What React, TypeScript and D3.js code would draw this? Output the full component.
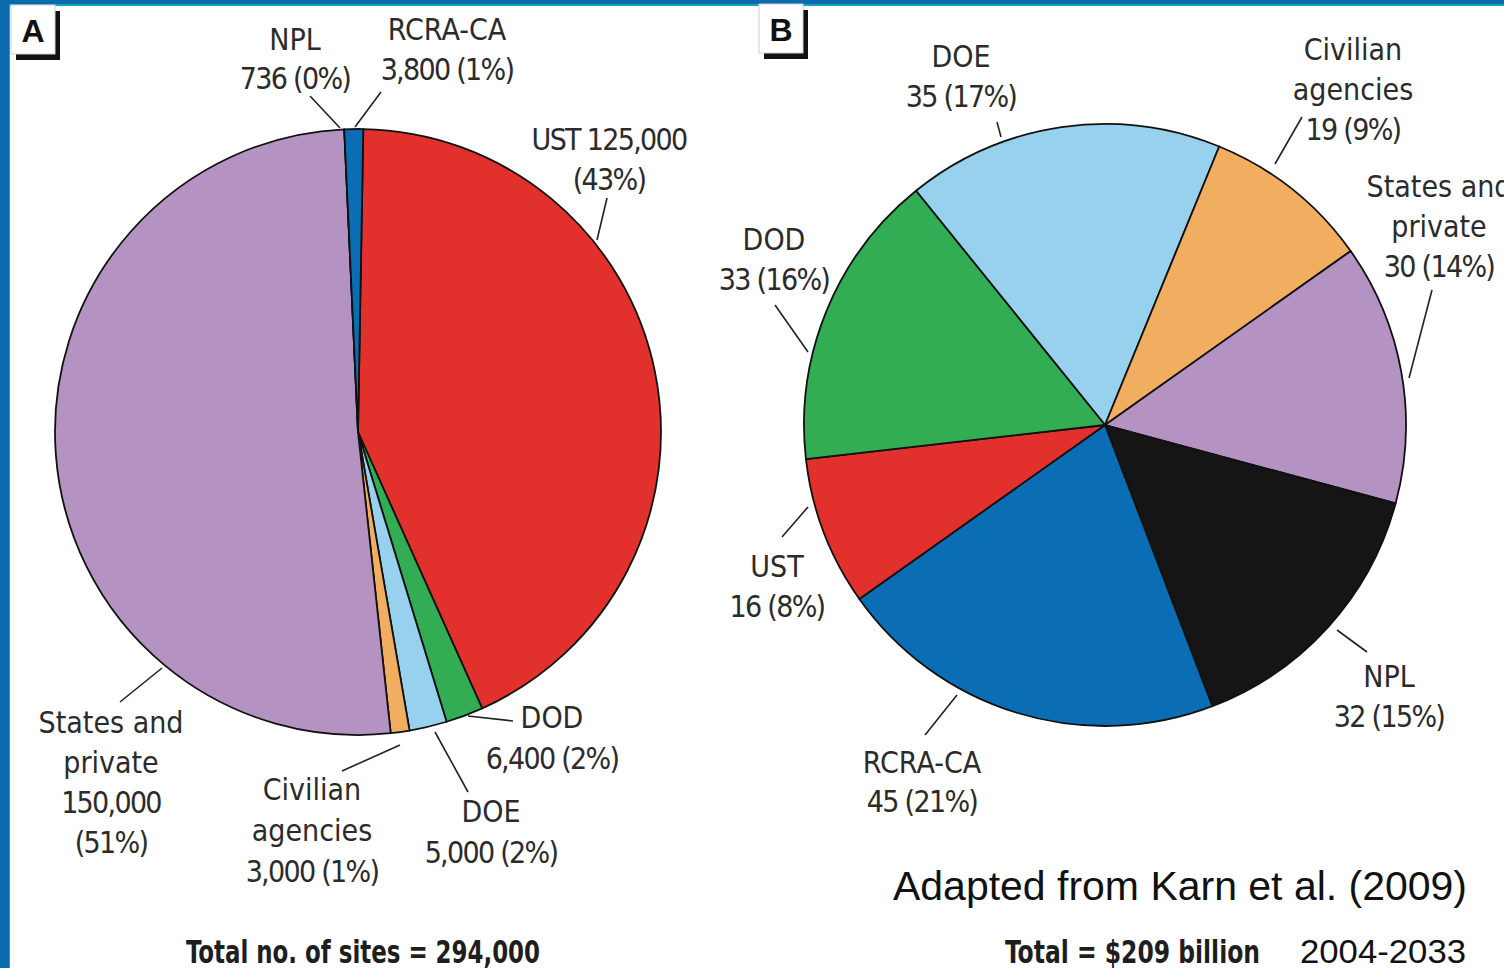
import React from 'react'
import * as d3 from 'd3'

// panel A: number of sites
const sitesNames = ['UST', 'DOD', 'DOE', 'Civilian agencies', 'States and private', 'NPL', 'RCRA-CA']
const sitesCounts = [125000, 6400, 5000, 3000, 150000, 736, 3800]
const sitesPct = [43, 2, 2, 1, 51, 0, 1]
const sitesTotal = 294000

// panel B: cost in $ billion, 2004-2033
const costNames = ['DOE', 'Civilian agencies', 'States and private', 'NPL', 'RCRA-CA', 'UST', 'DOD']
const costValues = [35, 19, 30, 32, 45, 16, 33]
const costPct = [17, 9, 14, 15, 21, 8, 16]
const costTotal = 209

const colors = {
  UST: '#e2312c',
  DOD: '#33ad53',
  DOE: '#97d1ee',
  'Civilian agencies': '#f2ae60',
  'States and private': '#b492c1',
  NPL: '#151515',
  'RCRA-CA': '#0b6db4',
}

const fmt = d3.format(',')
const deg = Math.PI / 180

const labelFont = "'DejaVu Sans Condensed', 'DejaVu Sans', sans-serif"
const textColor = '#2b2b2b'

// label layout: centre x, first baseline, line gap, leader line
const labelsA = {
  NPL: { x: 295, y: 50, dy: 39, lines: (v, p) => ['NPL', `${fmt(v)} (${p}%)`], lead: [310, 96, 340, 128] },
  'RCRA-CA': { x: 447, y: 40, dy: 40, lines: (v, p) => ['RCRA-CA', `${fmt(v)} (${p}%)`], lead: [381, 92, 355, 127] },
  UST: { x: 609, y: 150, dy: 40, lines: (v, p) => [`UST ${fmt(v)}`, `(${p}%)`], lead: [607, 198, 597, 240] },
  'States and private': { x: 111, y: 733, dy: 40, lines: (v, p) => ['States and', 'private', fmt(v), `(${p}%)`], lead: [120, 702, 162, 668] },
  'Civilian agencies': { x: 312, y: 800, dy: 41, lines: (v, p) => ['Civilian', 'agencies', `${fmt(v)} (${p}%)`], lead: [342, 771, 400, 745] },
  DOD: { x: 552, y: 728, dy: 41, lines: (v, p) => ['DOD', `${fmt(v)} (${p}%)`], lead: [468, 716, 513, 721] },
  DOE: { x: 491, y: 822, dy: 41, lines: (v, p) => ['DOE', `${fmt(v)} (${p}%)`], lead: [435, 732, 468, 792] },
}

const labelsB = {
  DOE: { x: 961, y: 67, dy: 40, lines: (v, p) => ['DOE', `${v} (${p}%)`], lead: [997, 122, 1001, 137] },
  'Civilian agencies': { x: 1353, y: 60, dy: 40, lines: (v, p) => ['Civilian', 'agencies', `${v} (${p}%)`], lead: [1302, 117, 1275, 164] },
  'States and private': { x: 1439, y: 197, dy: 40, lines: (v, p) => ['States and', 'private', `${v} (${p}%)`], lead: [1432, 290, 1409, 378] },
  DOD: { x: 774, y: 250, dy: 40, lines: (v, p) => ['DOD', `${v} (${p}%)`], lead: [775, 305, 808, 352] },
  UST: { x: 777, y: 577, dy: 40, lines: (v, p) => ['UST', `${v} (${p}%)`], lead: [782, 537, 808, 507] },
  NPL: { x: 1389, y: 687, dy: 40, lines: (v, p) => ['NPL', `${v} (${p}%)`], lead: [1337, 630, 1367, 652] },
  'RCRA-CA': { x: 922, y: 773, dy: 39, lines: (v, p) => ['RCRA-CA', `${v} (${p}%)`], lead: [925, 735, 957, 695] },
}

function Pie({ cx, cy, r, names, values, pct, start, labels }) {
  const pie = d3.pie().sort(null).value(d => d.pct).startAngle(start).endAngle(start + 2 * Math.PI)
  const arc = d3.arc().innerRadius(0).outerRadius(r)
  const data = names.map((n, i) => ({ name: n, value: values[i], pct: pct[i] }))
  const arcs = pie(data)
  return (
    <g>
      <g transform={`translate(${cx},${cy})`}>
        {arcs.map(a => (
          <path key={a.data.name} d={arc(a)} fill={colors[a.data.name]} stroke="#111" strokeWidth={1.8} strokeLinejoin="round" />
        ))}
      </g>
      {data.map(d => {
        const l = labels[d.name]
        return (
          <g key={d.name}>
            <line x1={l.lead[0]} y1={l.lead[1]} x2={l.lead[2]} y2={l.lead[3]} stroke="#222" strokeWidth={1.6} />
            <text textAnchor="middle" fontFamily={labelFont} fontStretch="condensed" fontSize={30} fill={textColor}>
              {l.lines(d.value, d.pct).map((t, i) => (
                <tspan key={i} x={l.x} y={l.y + i * l.dy} letterSpacing={/\d/.test(t) ? -1.7 : 0}>{t}</tspan>
              ))}
            </text>
          </g>
        )
      })}
    </g>
  )
}

function PanelTag({ x, y, letter }) {
  return (
    <g>
      <rect x={x + 5} y={y + 6} width={44} height={49} fill="#111" />
      <rect x={x} y={y} width={44} height={49} fill="#fff" stroke="#d0d0d0" strokeWidth={1} />
      <text x={x + 22} y={y + 37} textAnchor="middle" fontFamily="'Liberation Sans', Arial, sans-serif" fontWeight="bold" fontSize={32} fill="#111">{letter}</text>
    </g>
  )
}

export default function App() {
  const W = 1504
  const H = 968
  return (
    <svg width={W} height={H} style={{ position: 'absolute', left: 0, top: 0, background: '#fff' }}>
      <rect x={0} y={0} width={W} height={H} fill="#0a6aae" />
      <rect x={9} y={4} width={W - 9} height={H - 4} fill="#18a4b4" />
      <rect x={10} y={6} width={W - 10} height={H - 6} fill="#fff" />

      <PanelTag x={11} y={5} letter="A" />
      <PanelTag x={759} y={4} letter="B" />

      <Pie cx={358} cy={432} r={303} names={sitesNames} values={sitesCounts} pct={sitesPct} start={1 * deg} labels={labelsA} />
      <Pie cx={1105} cy={425} r={301} names={costNames} values={costValues} pct={costPct} start={-38.9 * deg} labels={labelsB} />

      <text x={893} y={900} fontFamily="'Liberation Sans', Arial, sans-serif" fontSize={40} fill="#111" textLength={574} lengthAdjust="spacingAndGlyphs">Adapted from Karn et al. (2009)</text>

      <text x={186} y={963} fontFamily={labelFont} fontWeight="bold" fontSize={32} fill="#1e1e1e" textLength={354} lengthAdjust="spacingAndGlyphs">{`Total no. of sites = ${fmt(sitesTotal)}`}</text>
      <text x={1005} y={963} fontFamily={labelFont} fontWeight="bold" fontSize={32} fill="#1e1e1e" textLength={255} lengthAdjust="spacingAndGlyphs">{`Total = $${costTotal} billion`}</text>
      <text x={1300} y={963} fontFamily="'Liberation Sans', Arial, sans-serif" fontSize={34} fill="#111" textLength={166} lengthAdjust="spacingAndGlyphs">2004-2033</text>
    </svg>
  )
}
